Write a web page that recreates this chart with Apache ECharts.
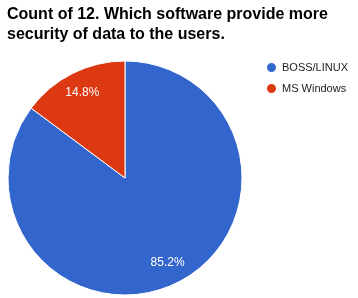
<!DOCTYPE html>
<html>
<head>
<meta charset="utf-8">
<style>
  html, body { margin: 0; padding: 0; background: #fff; }
  #main { width: 358px; height: 298px; }
</style>
<script src="https://cdn.jsdelivr.net/npm/echarts@6/dist/echarts.min.js"></script>
</head>
<body>
<div id="main"></div>
<script>
// data
var categories = ['BOSS/LINUX', 'MS Windows'];
var counts = [23, 4];
var colors = ['#3366cc', '#dc3912'];

var pieData = categories.map(function (name, i) {
    return { name: name, value: counts[i], itemStyle: { color: colors[i] } };
});

var myChart = echarts.init(document.getElementById('main'));

var option = {
    animation: false,
    title: {
        text: 'Count of 12. Which software provide more\nsecurity of data to the users.',
        left: 7,
        top: 5,
        padding: 0,
        textStyle: {
            fontFamily: 'Liberation Sans, Arial, sans-serif',
            fontSize: 16,
            fontWeight: 'bold',
            color: '#000',
            lineHeight: 20
        }
    },
    legend: {
        orient: 'vertical',
        left: 265,
        top: 61,
        padding: 0,
        icon: 'circle',
        itemWidth: 11,
        itemHeight: 11,
        itemGap: 8,
        textStyle: {
            fontFamily: 'Liberation Sans, Arial, sans-serif',
            fontSize: 11,
            color: '#222'
        },
        data: categories
    },
    series: [
        {
            // the pie itself
            type: 'pie',
            center: [125, 178],
            radius: [0, 117],
            startAngle: 90,
            clockwise: true,
            label: { show: false },
            labelLine: { show: false },
            itemStyle: { borderColor: '#fff', borderWidth: 1 },
            emphasis: { disabled: true },
            data: pieData
        },
        {
            // transparent ring, only used to put the labels further out
            type: 'pie',
            center: [125, 178],
            radius: [67, 117],
            startAngle: 90,
            clockwise: true,
            silent: true,
            itemStyle: { color: 'transparent', borderWidth: 0 },
            label: {
                show: true,
                position: 'inside',
                formatter: function (p) { return p.percent.toFixed(1) + '%'; },
                color: '#fff',
                fontFamily: 'Liberation Sans, Arial, sans-serif',
                fontSize: 12
            },
            labelLine: { show: false },
            emphasis: { disabled: true },
            data: categories.map(function (name, i) {
                return { name: name, value: counts[i] };
            })
        }
    ]
};

myChart.setOption(option);
</script>
</body>
</html>
